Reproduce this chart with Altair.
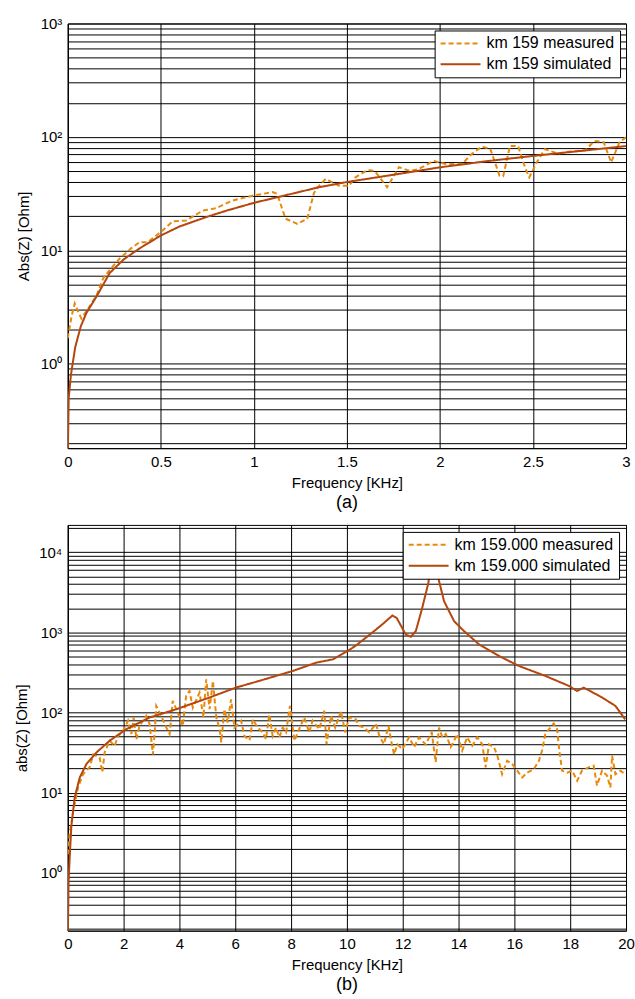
import altair as alt
import pandas as pd

# ---------------- (a) 0-3 KHz ----------------
a_meas_f = [0, 0.02, 0.0375, 0.055, 0.073, 0.1, 0.155, 0.19, 0.225, 0.28, 0.34, 0.386, 0.43, 0.5,
            0.564, 0.636, 0.725, 0.796, 0.886, 0.993, 1.1, 1.125, 1.17, 1.234, 1.287, 1.323, 1.35,
            1.386, 1.457, 1.51, 1.546, 1.61, 1.65, 1.716, 1.78, 1.84, 1.886, 1.966, 2.03, 2.12,
            2.17, 2.224, 2.27, 2.32, 2.34, 2.376, 2.42, 2.457, 2.48, 2.52, 2.564, 2.636, 2.69,
            2.78, 2.83, 2.88, 2.92, 2.965, 3.0]
a_meas_z = [1.68, 2.6, 3.4, 2.9, 2.5, 2.9, 4.0, 5.65, 6.7, 8.5, 10.4, 11.8, 11.8, 14.5,
            18, 18.3, 22.4, 23.5, 27.5, 30.3, 32.6, 31.5, 19, 17.1, 19, 32, 37,
            42.6, 37, 37, 44, 51, 50, 36, 54, 50, 52, 61.5, 57.6, 58,
            70.5, 82, 79, 45.6, 45, 83, 83, 54, 44, 59.6, 78, 71, 74,
            76, 92, 90, 59.6, 90, 99]
a_sim_f = [0, 0.005, 0.017, 0.04, 0.07, 0.1, 0.154, 0.225, 0.3, 0.386, 0.5, 0.6, 0.743, 0.85,
           1.0, 1.15, 1.35, 1.5, 1.7, 2.0, 2.25, 2.5, 2.75, 3.0]
a_sim_z = [0.15, 0.5, 0.8, 1.4, 2.14, 2.8, 3.9, 6.3, 8.3, 10.4, 13.5, 16.2, 19.6, 22.3,
           26.2, 30, 36, 40, 45, 53.9, 61, 68, 75, 83]

# ---------------- (b) 0-20 KHz ----------------
b_meas_f = [0, 0.07, 0.2, 0.37, 0.55, 0.79, 0.91, 1.14, 1.24, 1.32, 1.5, 1.68, 1.8, 1.98, 2.16,
            2.28, 2.36, 2.46, 2.57, 2.81, 2.93, 3.05, 3.11, 3.17, 3.29, 3.53, 3.65, 3.76, 3.94,
            4.12, 4.24, 4.36, 4.48, 4.72, 4.86, 4.96, 5.08, 5.2, 5.32, 5.43, 5.5, 5.61, 5.73,
            5.85, 5.97, 6.21, 6.33, 6.51, 6.63, 6.8, 6.98, 7.1, 7.22, 7.34, 7.46, 7.58, 7.7,
            7.82, 7.96, 8.06, 8.12, 8.29, 8.47, 8.65, 8.77, 9.01, 9.19, 9.27, 9.43, 9.58, 9.79,
            9.94, 10.08, 10.32, 10.44, 10.62, 10.8, 11.04, 11.18, 11.33, 11.49, 11.61, 11.69,
            11.81, 11.99, 12.23, 12.41, 12.58, 12.82, 13.04, 13.18, 13.3, 13.42, 13.54, 13.72,
            13.96, 14.13, 14.31, 14.49, 14.67, 14.85, 14.97, 15.09, 15.27, 15.39, 15.56, 15.74,
            15.92, 16.1, 16.28, 16.46, 16.7, 16.88, 16.99, 17.11, 17.29, 17.41, 17.53, 17.61,
            17.71, 17.89, 18.07, 18.25, 18.42, 18.66, 18.84, 18.96, 19.14, 19.32, 19.44, 19.5,
            19.62, 19.8, 19.97]
b_meas_z = [1.7, 3.2, 6.0, 11.7, 17, 21, 30, 27.5, 18, 31.8, 44.5, 38.5, 51, 59, 79,
            54, 86.6, 46.6, 68, 91, 72, 30, 54, 121, 100, 65, 54, 140, 100,
            68, 161, 186, 115, 177, 87, 260, 110, 248, 87, 65, 42.4, 110, 75,
            146, 65, 79, 51, 45, 82, 65, 56.5, 46.6, 95, 51, 65, 49, 65,
            56.5, 121, 65, 44.5, 62, 87, 56.5, 79, 62, 105, 40.4, 91, 65, 103,
            56.5, 87, 82, 68, 65, 56.5, 72, 49, 40.4, 68, 40, 30,
            40, 35, 49, 37, 49, 40, 56.5, 24, 65, 49, 54, 37,
            54, 33.4, 49, 38.5, 49, 40, 20.7, 40, 37, 29, 17, 25,
            22.8, 18.8, 15.5, 17.8, 19.7, 25, 33.4, 54, 65, 73, 62, 33.4,
            18.8, 17.8, 18.8, 14.1, 18.8, 20.7, 21.7, 12.3, 18.8, 16.3, 11.6, 29,
            17, 18.8, 17]
b_sim_f = [0, 0.03, 0.07, 0.13, 0.25, 0.43, 0.67, 1.03, 1.5, 2.1, 2.93, 3.89, 5.08, 6.03, 6.86,
           8.06, 8.89, 9.49, 10.02, 10.3, 10.92, 11.27, 11.63, 11.78, 12.11, 12.29, 12.47, 12.7,
           12.92, 13.1, 13.3, 13.48, 13.84, 14.13, 14.73, 15.45, 16.16, 17.11, 17.95, 18.25,
           18.48, 18.66, 19.14, 19.62, 19.97]
b_sim_z = [0.15, 0.8, 1.6, 3.9, 8.8, 15.5, 22.8, 31.8, 44.5, 62, 86.6, 110, 154, 205, 248,
           330, 418, 460, 585, 675, 1000, 1260, 1620, 1520, 940, 880, 1040, 2030,
           4150, 15000, 4380, 2450, 1380, 1090, 708, 507, 381, 286, 215, 186,
           204, 190, 154, 121, 82]

names_a = ["km 159 measured", "km 159 simulated"]
names_b = ["km 159.000 measured", "km 159.000 simulated"]
colors = ["#E8890C", "#B4460E"]

a_xticks = [0, 0.5, 1, 1.5, 2, 2.5, 3]
b_xticks = [0, 2, 4, 6, 8, 10, 12, 14, 16, 18, 20]

FONT = "Liberation Sans"
LEGEND_LINE = "M-2.857,0H2.857"   # a long horizontal stroke for the legend key


def log_grid(kmin, kmax):
    return [m * 10 ** k for k in range(kmin, kmax + 1) for m in range(1, 10)]


def frame(mf, mz, sf, sz, names):
    rows = [{"f": f, "z": z, "series": names[0]} for f, z in zip(mf, mz)]
    rows += [{"f": f, "z": z, "series": names[1]} for f, z in zip(sf, sz)]
    return pd.DataFrame(rows)


LABEL_EXPR = ("datum.value == 1 ? '10⁰' : datum.value == 10 ? '10¹' : "
              "datum.value == 100 ? '10²' : datum.value == 1000 ? '10³' : "
              "datum.value == 10000 ? '10⁴' : ''")


def panel(df, names, xmax, xticks, ydom, grid, ytitle, height, legx, caption):
    leg = alt.Legend(title=None, orient="none", legendX=legx, legendY=7,
                     symbolType=LEGEND_LINE, symbolSize=196, symbolStrokeWidth=2,
                     symbolOffset=13,
                     labelFont=FONT, labelFontSize=16, labelColor="black",
                     labelOffset=18, fillColor="white", strokeColor="black",
                     padding=5, rowPadding=5)
    return alt.Chart(df, title=alt.TitleParams(
        caption, orient="bottom", anchor="middle", fontSize=18, font=FONT,
        fontWeight="normal", color="black", offset=4)).mark_line(
        strokeWidth=2, clip=True).encode(
        x=alt.X("f:Q", scale=alt.Scale(domain=[0, xmax], nice=False, zero=False),
                axis=alt.Axis(values=xticks, format="~g", title="Frequency [KHz]",
                              labelFlush=False, labelOverlap=False)),
        y=alt.Y("z:Q", scale=alt.Scale(type="log", domain=ydom, nice=False),
                axis=alt.Axis(values=grid, labelExpr=LABEL_EXPR, title=ytitle,
                              labelOverlap=False)),
        color=alt.Color("series:N", scale=alt.Scale(domain=names, range=colors), legend=leg),
        strokeDash=alt.StrokeDash("series:N", scale=alt.Scale(domain=names, range=[[5, 3], [1, 0]]),
                                  legend=leg),
    ).properties(width=560, height=height)


top = panel(frame(a_meas_f, a_meas_z, a_sim_f, a_sim_z, names_a), names_a, 3, a_xticks,
            [0.18, 1000], log_grid(-1, 3), "Abs(Z) [Ohm]", 426, 368, "(a)")
bottom = panel(frame(b_meas_f, b_meas_z, b_sim_f, b_sim_z, names_b), names_b, 20, b_xticks,
               [0.19, 21900], log_grid(-1, 4), "abs(Z) [Ohm]", 407, 336, "(b)")

chart = alt.vconcat(top, bottom, spacing=77, bounds="flush").resolve_scale(
    color="independent", strokeDash="independent", x="independent", y="independent"
).configure(padding={"left": 14, "top": 14, "right": 0, "bottom": 0}, background="white").configure_view(
    stroke="black", strokeWidth=1
).configure_axis(
    grid=True, gridColor="black", gridOpacity=1, gridWidth=1, ticks=False,
    domainColor="black", labelFont=FONT, labelFontSize=15, labelColor="black",
    titleFont=FONT, titleFontSize=15, titleFontWeight="normal", titleColor="black",
    labelPadding=6,
).configure_axisX(titlePadding=6).configure_axisY(titlePadding=9)

chart.save("out.html", embed_options={"renderer": "svg", "actions": False})
